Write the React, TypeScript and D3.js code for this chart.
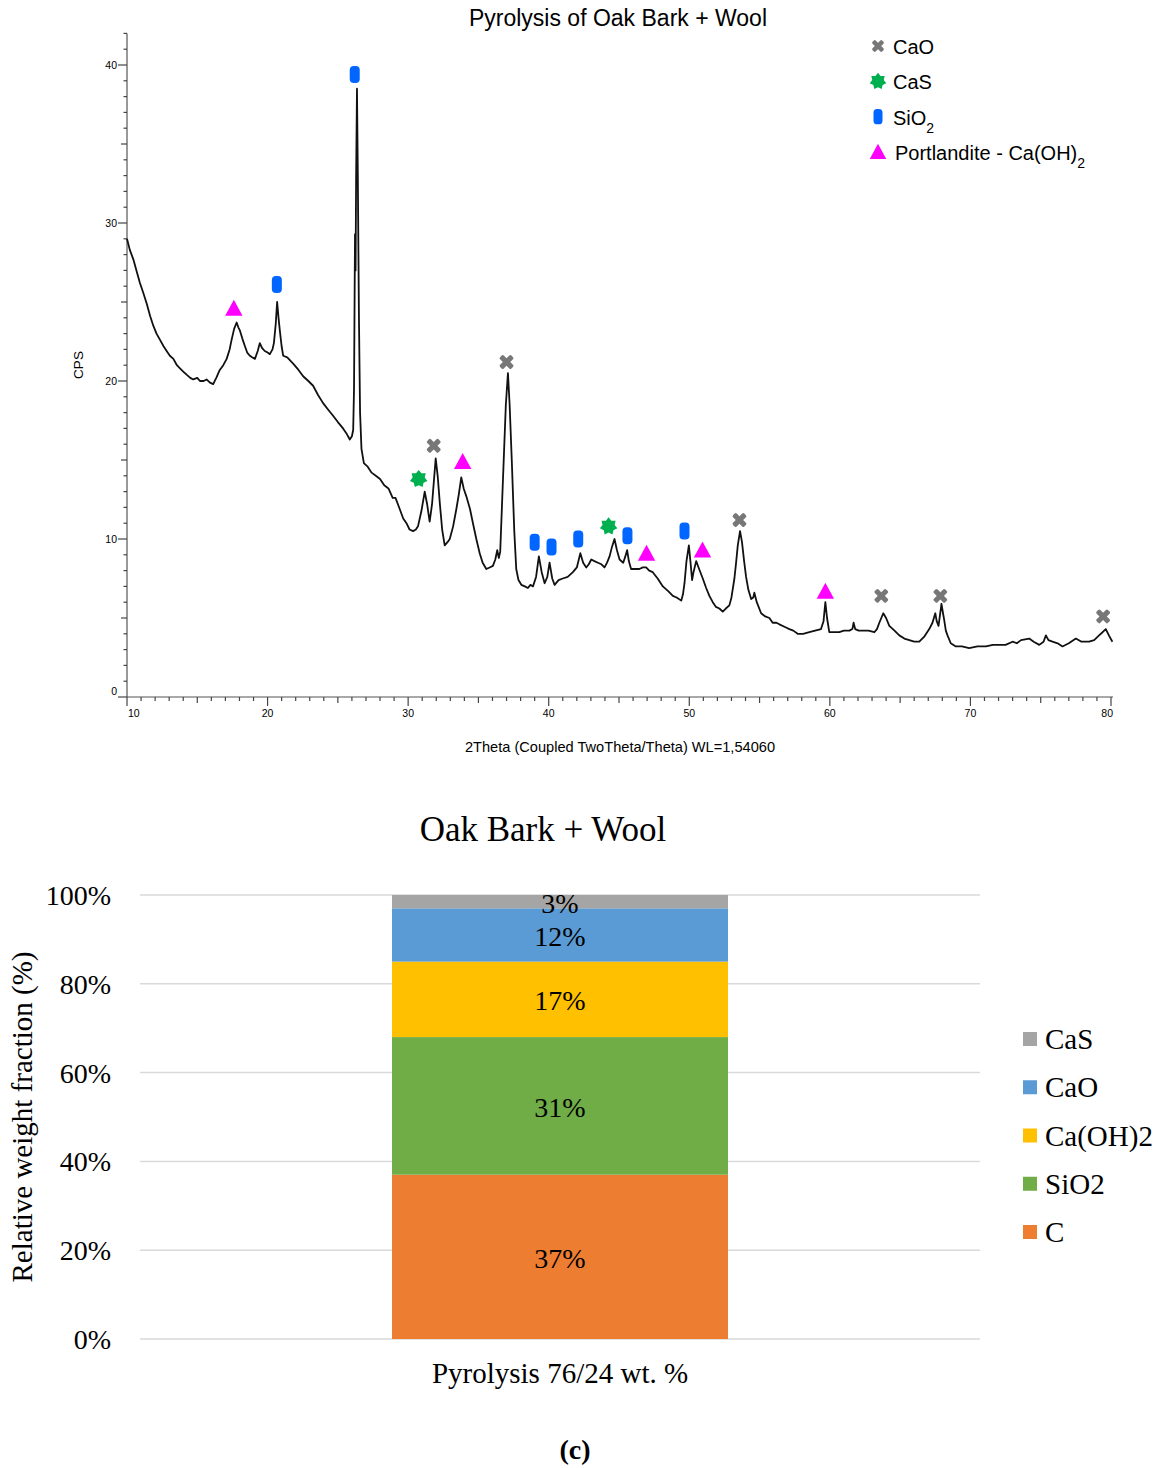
import React from "react";
import * as d3 from "d3";

// ---------- XRD pattern (2Theta, CPS) ----------
const xrdPoints: [number, number][] = [
  [10.0, 29.0], [10.2, 28.3], [10.45, 27.7], [10.7, 26.9], [10.92, 26.2], [11.15, 25.6], [11.4, 24.9],
  [11.65, 24.1], [11.87, 23.5], [12.1, 23.0], [12.35, 22.6], [12.6, 22.2], [12.82, 21.9], [13.05, 21.6],
  [13.3, 21.4], [13.55, 21.0], [13.77, 20.8], [14.0, 20.6], [14.24, 20.4], [14.5, 20.2], [14.71, 20.1],
  [15.0, 20.2], [15.19, 20.0], [15.45, 20.0], [15.66, 20.1], [15.9, 19.9], [16.13, 19.8], [16.35, 20.2],
  [16.6, 20.7], [16.85, 21.0], [17.09, 21.4], [17.3, 22.0], [17.44, 22.6], [17.62, 23.3], [17.8, 23.7],
  [17.92, 23.4], [18.03, 23.2], [18.2, 22.7], [18.39, 22.2], [18.55, 21.8], [18.74, 21.6], [18.9, 21.5],
  [19.1, 21.4], [19.3, 21.9], [19.45, 22.4], [19.6, 22.1], [19.8, 21.9], [20.0, 21.8], [20.16, 21.7],
  [20.35, 22.0], [20.45, 22.4], [20.58, 23.6], [20.68, 25.0], [20.78, 24.0], [20.87, 23.2], [21.0, 22.2],
  [21.11, 21.6], [21.4, 21.5], [21.82, 21.1], [22.2, 20.7], [22.53, 20.3], [22.9, 20.0], [23.24, 19.7],
  [23.6, 19.1], [23.95, 18.6], [24.3, 18.2], [24.66, 17.8], [25.0, 17.4], [25.37, 17.0], [25.6, 16.7],
  [25.85, 16.3], [26.0, 16.5], [26.09, 16.9], [26.15, 19.5], [26.22, 29.3], [26.26, 27.0], [26.3, 33.0],
  [26.36, 38.5], [26.42, 33.0], [26.5, 24.0], [26.58, 18.0], [26.68, 15.7], [26.85, 14.8], [27.1, 14.6],
  [27.4, 14.2], [27.7, 14.0], [28.0, 13.8], [28.3, 13.4], [28.6, 13.2], [28.9, 12.6], [29.1, 12.6],
  [29.4, 11.9], [29.65, 11.3], [29.88, 11.0], [30.1, 10.6], [30.35, 10.5], [30.55, 10.6], [30.7, 10.8],
  [30.95, 11.8], [31.18, 13.0], [31.35, 12.2], [31.53, 11.1], [31.7, 12.2], [31.96, 15.1], [32.1, 14.0],
  [32.25, 12.3], [32.42, 10.6], [32.6, 9.6], [32.8, 9.8], [32.96, 10.0], [33.2, 10.8], [33.43, 11.9],
  [33.6, 12.8], [33.78, 13.9], [33.95, 13.2], [34.14, 12.7], [34.4, 11.9], [34.61, 11.0], [34.85, 10.0],
  [35.09, 9.1], [35.3, 8.5], [35.56, 8.1], [35.8, 8.2], [36.03, 8.3], [36.2, 8.7], [36.34, 9.3],
  [36.45, 8.8], [36.55, 9.2], [36.79, 14.8], [36.95, 18.5], [37.1, 20.5], [37.22, 18.5], [37.38, 14.8],
  [37.55, 10.5], [37.69, 8.1], [37.85, 7.4], [38.05, 7.1], [38.3, 7.0], [38.52, 6.9], [38.7, 7.1],
  [38.88, 7.0], [39.1, 7.6], [39.3, 8.9], [39.5, 7.9], [39.71, 7.2], [39.9, 7.6], [40.06, 8.5],
  [40.25, 7.5], [40.42, 7.1], [40.7, 7.4], [41.0, 7.5], [41.35, 7.6], [41.72, 7.9], [42.0, 8.2],
  [42.25, 9.1], [42.45, 8.5], [42.67, 8.2], [42.85, 8.4], [43.03, 8.7], [43.25, 8.6], [43.5, 8.5],
  [43.75, 8.4], [43.97, 8.2], [44.15, 8.5], [44.33, 8.9], [44.5, 9.5], [44.68, 10.0], [44.85, 9.3],
  [45.04, 8.7], [45.3, 8.5], [45.45, 8.9], [45.58, 9.3], [45.7, 8.6], [45.86, 8.1], [46.15, 8.1],
  [46.45, 8.1], [46.7, 8.2], [46.93, 8.2], [47.15, 8.0], [47.4, 7.9], [47.75, 7.5], [48.12, 7.0],
  [48.5, 6.7], [48.83, 6.4], [49.1, 6.3], [49.43, 6.1], [49.55, 6.5], [49.66, 7.2], [49.8, 8.6],
  [49.97, 9.6], [50.1, 8.4], [50.2, 7.4], [50.3, 7.9], [50.49, 8.6], [50.7, 8.1], [50.96, 7.5],
  [51.2, 6.9], [51.43, 6.4], [51.67, 6.0], [51.9, 5.7], [52.14, 5.6], [52.38, 5.4], [52.6, 5.6],
  [52.85, 5.8], [53.0, 6.3], [53.21, 7.5], [53.33, 8.5], [53.45, 9.6], [53.61, 10.5], [53.75, 9.8],
  [53.9, 8.6], [54.04, 7.6], [54.2, 6.8], [54.4, 6.2], [54.55, 6.3], [54.63, 6.6], [54.8, 6.0],
  [55.11, 5.3], [55.4, 5.1], [55.7, 5.0], [55.93, 4.7], [56.2, 4.7], [56.41, 4.6], [56.88, 4.4],
  [57.12, 4.3], [57.4, 4.2], [57.71, 4.0], [58.1, 4.0], [58.54, 4.1], [58.95, 4.2], [59.37, 4.3],
  [59.55, 4.8], [59.68, 6.0], [59.8, 5.0], [59.96, 4.1], [60.3, 4.1], [60.67, 4.1], [61.0, 4.2],
  [61.39, 4.2], [61.6, 4.3], [61.69, 4.7], [61.8, 4.3], [62.05, 4.2], [62.33, 4.2], [62.75, 4.2],
  [63.16, 4.1], [63.35, 4.3], [63.52, 4.7], [63.8, 5.3], [64.0, 5.0], [64.23, 4.5], [64.6, 4.2],
  [64.94, 3.9], [65.3, 3.7], [65.65, 3.6], [66.0, 3.5], [66.36, 3.5], [66.7, 3.8], [67.07, 4.3],
  [67.3, 4.7], [67.5, 5.3], [67.6, 4.8], [67.73, 4.5], [67.85, 5.3], [67.94, 5.9], [68.05, 5.3],
  [68.13, 4.9], [68.25, 4.2], [68.37, 3.9], [68.6, 3.4], [68.96, 3.2], [69.4, 3.2], [69.91, 3.1],
  [70.5, 3.2], [71.1, 3.2], [71.6, 3.3], [72.05, 3.3], [72.5, 3.3], [73.0, 3.5], [73.3, 3.4],
  [73.6, 3.6], [74.18, 3.7], [74.5, 3.5], [74.9, 3.3], [75.2, 3.5], [75.37, 3.9], [75.55, 3.6],
  [75.84, 3.5], [76.2, 3.4], [76.55, 3.2], [77.0, 3.4], [77.5, 3.7], [77.9, 3.5], [78.44, 3.5],
  [78.8, 3.6], [79.15, 3.9], [79.4, 4.1], [79.63, 4.3], [79.85, 3.9], [80.1, 3.5],
];

// phase markers: [2Theta, CPS, phase]
const phaseMarkers: [number, number, string][] = [
  [17.6, 24.6, "Portlandite"], [20.66, 26.1, "SiO2"], [26.2, 39.4, "SiO2"], [30.75, 13.8, "CaS"],
  [31.82, 15.9, "CaO"], [33.88, 14.9, "Portlandite"], [37.0, 21.2, "CaO"], [39.0, 9.8, "SiO2"],
  [40.2, 9.5, "SiO2"], [42.1, 10.0, "SiO2"], [44.26, 10.8, "CaS"], [45.6, 10.2, "SiO2"],
  [46.96, 9.1, "Portlandite"], [49.66, 10.5, "SiO2"], [50.94, 9.3, "Portlandite"], [53.57, 11.2, "CaO"],
  [59.68, 6.7, "Portlandite"], [63.66, 6.4, "CaO"], [67.86, 6.4, "CaO"], [79.44, 5.1, "CaO"],
];

const xrdLegendPhases = ["CaO", "CaS", "SiO2", "Portlandite"];

const xTickValues = d3.range(10, 81, 1);
const yTickValues = d3.range(0, 43, 1);

// ---------- Composition bar ----------
const barCategory = ["Pyrolysis 76/24 wt. %"];
const phaseNames = ["C", "SiO2", "Ca(OH)2", "CaO", "CaS"];
const phaseFractions = [0.37, 0.31, 0.17, 0.12, 0.03];
const phaseColors = ["#ed7d31", "#70ad47", "#ffc000", "#5b9bd5", "#a5a5a5"];
const percentTicks = [0, 0.2, 0.4, 0.6, 0.8, 1.0];

const SANS = "'Liberation Sans', Arial, sans-serif";
const SERIF = "'Liberation Serif', 'Times New Roman', serif";

function starPath(outer: number, inner: number, n: number) {
  const pts: string[] = [];
  for (let i = 0; i < n * 2; i++) {
    const r = i % 2 === 0 ? outer : inner;
    const a = (Math.PI * i) / n - Math.PI / 2;
    pts.push(`${(r * Math.cos(a)).toFixed(2)},${(r * Math.sin(a)).toFixed(2)}`);
  }
  return "M" + pts.join("L") + "Z";
}

function Marker({ phase, x, y, s = 1 }: { phase: string; x: number; y: number; s?: number }) {
  if (phase === "CaO") {
    return (
      <g transform={`translate(${x},${y}) scale(${s})`} fill="#777">
        <rect x={-8} y={-2.6} width={16} height={5.2} rx={1.5} transform="rotate(45)" />
        <rect x={-8} y={-2.6} width={16} height={5.2} rx={1.5} transform="rotate(-45)" />
      </g>
    );
  }
  if (phase === "CaS") {
    return <path transform={`translate(${x},${y}) scale(${s})`} d={starPath(9, 6.2, 7)} fill="#00b050" />;
  }
  if (phase === "SiO2") {
    return (
      <rect transform={`translate(${x},${y}) scale(${s})`} x={-5} y={-8.5} width={10} height={17} rx={4} fill="#0066ff" />
    );
  }
  return <path transform={`translate(${x},${y}) scale(${s})`} d="M0,-8.5L8.7,7.5L-8.7,7.5Z" fill="#ff00ff" />;
}

export default function App() {
  const x = d3.scaleLinear().domain([10, 80]).range([127, 1111]);
  const y = d3.scaleLinear().domain([0, 40]).range([697, 65]);
  const line = d3
    .line<[number, number]>()
    .x((d) => x(d[0]))
    .y((d) => y(d[1]));

  // bottom chart scales
  const xb = d3.scaleBand().domain(barCategory).range([140, 980]).paddingInner(0.6).paddingOuter(0.3);
  const yb = d3.scaleLinear().domain([0, 1]).range([1339, 895]);
  const row: Record<string, number> = {};
  phaseNames.forEach((p, i) => (row[p] = phaseFractions[i]));
  const stacked = d3.stack<Record<string, number>>().keys(phaseNames)([row]);
  const bx = xb(barCategory[0]) as number;
  const bw = xb.bandwidth();

  const legendLabels: Record<string, React.ReactNode> = {
    CaO: "CaO",
    CaS: "CaS",
    SiO2: (
      <>
        SiO<tspan baselineShift="sub" fontSize={14}>2</tspan>
      </>
    ),
    Portlandite: (
      <>
        Portlandite - Ca(OH)<tspan baselineShift="sub" fontSize={14}>2</tspan>
      </>
    ),
  };

  return (
    <svg width={1162} height={1468} style={{ position: "absolute", left: 0, top: 0, background: "#fff" }}>
      {/* ===== XRD chart ===== */}
      <text x={618} y={26} textAnchor="middle" fontFamily={SANS} fontSize={23} fill="#000">
        Pyrolysis of Oak Bark + Wool
      </text>

      {/* axes */}
      <line x1={x(10)} x2={x(10)} y1={y(0)} y2={y(42)} stroke="#555" strokeWidth={1.2} />
      <line x1={x(10)} x2={x(80) + 2} y1={y(0)} y2={y(0)} stroke="#555" strokeWidth={1.2} />
      {yTickValues.map((v) => {
        const len = v % 10 === 0 ? 9 : v % 5 === 0 ? 6 : 3.5;
        return <line key={"yt" + v} x1={x(10) - len} x2={x(10)} y1={y(v)} y2={y(v)} stroke="#444" strokeWidth={1.2} />;
      })}
      {[0, 10, 20, 30, 40].map((v) => (
        <text
          key={"yl" + v}
          x={x(10) - 10}
          y={v === 0 ? y(v) - 2 : y(v) + 4}
          textAnchor="end"
          fontFamily={SANS}
          fontSize={10.5}
          fill="#000"
        >
          {v}
        </text>
      ))}
      {xTickValues.map((v) => {
        const len = v % 10 === 0 ? 9 : v % 5 === 0 ? 6 : 4;
        return <line key={"xt" + v} x1={x(v)} x2={x(v)} y1={y(0)} y2={y(0) + len} stroke="#444" strokeWidth={1.2} />;
      })}
      {[10, 20, 30, 40, 50, 60, 70, 80].map((v) => (
        <text
          key={"xl" + v}
          x={v === 10 ? x(v) + 1 : v === 80 ? x(v) + 2 : x(v)}
          y={y(0) + 20}
          textAnchor={v === 10 ? "start" : v === 80 ? "end" : "middle"}
          fontFamily={SANS}
          fontSize={10.5}
          fill="#000"
        >
          {v}
        </text>
      ))}
      <text x={620} y={752} textAnchor="middle" fontFamily={SANS} fontSize={14.6} fill="#000">
        2Theta (Coupled TwoTheta/Theta) WL=1,54060
      </text>
      <text
        transform={`translate(83,${365}) rotate(-90)`}
        textAnchor="middle"
        fontFamily={SANS}
        fontSize={13.5}
        fill="#000"
      >
        CPS
      </text>

      {/* pattern */}
      <path d={line(xrdPoints) || ""} fill="none" stroke="#111" strokeWidth={1.8} strokeLinejoin="round" />

      {/* phase markers */}
      {phaseMarkers.map((m, i) => (
        <Marker key={"pm" + i} phase={m[2]} x={x(m[0])} y={y(m[1])} />
      ))}

      {/* legend */}
      {xrdLegendPhases.map((p, i) => {
        const ly = 47 + i * 35.3;
        return (
          <g key={"lg" + p}>
            <Marker phase={p} x={878} y={ly - 1} s={p === "CaO" ? 0.85 : p === "SiO2" ? 0.9 : 0.95} />
            <text x={p === "Portlandite" ? 895 : 893} y={ly + 7} fontFamily={SANS} fontSize={20} fill="#000">
              {legendLabels[p]}
            </text>
          </g>
        );
      })}

      {/* ===== Composition chart ===== */}
      <text x={543} y={841} textAnchor="middle" fontFamily={SERIF} fontSize={35} fill="#000">
        Oak Bark + Wool
      </text>
      {percentTicks.map((t) => (
        <g key={"g" + t}>
          <line x1={140} x2={980} y1={yb(t)} y2={yb(t)} stroke="#d9d9d9" strokeWidth={1.5} />
          <text x={111} y={yb(t) + 10} textAnchor="end" fontFamily={SERIF} fontSize={28} fill="#000">
            {Math.round(t * 100) + "%"}
          </text>
        </g>
      ))}
      {stacked.map((s, i) => {
        const d = s[0];
        const top = yb(d[1]);
        const bot = yb(d[0]);
        const mid = (top + bot) / 2;
        return (
          <g key={"seg" + s.key}>
            <rect x={bx} y={top} width={bw} height={bot - top} fill={phaseColors[i]} />
            <text x={bx + bw / 2} y={mid + 11} textAnchor="middle" fontFamily={SERIF} fontSize={28} fill="#000">
              {Math.round(phaseFractions[i] * 100) + "%"}
            </text>
          </g>
        );
      })}
      <text x={bx + bw / 2} y={1383} textAnchor="middle" fontFamily={SERIF} fontSize={29} fill="#000">
        {barCategory[0]}
      </text>
      <text
        transform={`translate(32,1117) rotate(-90)`}
        textAnchor="middle"
        fontFamily={SERIF}
        fontSize={29}
        fill="#000"
      >
        Relative weight fraction (%)
      </text>
      {phaseNames
        .map((p, i) => ({ p, i }))
        .reverse()
        .map(({ p, i }, k) => {
          const ly = 1039 + k * 48.25;
          return (
            <g key={"bl" + p}>
              <rect x={1023} y={ly - 7} width={14} height={14} fill={phaseColors[i]} />
              <text x={1045} y={ly + 10} fontFamily={SERIF} fontSize={29} fill="#000">
                {p}
              </text>
            </g>
          );
        })}
      <text x={575} y={1459} textAnchor="middle" fontFamily={SERIF} fontSize={28} fontWeight="bold" fill="#000">
        (c)
      </text>
    </svg>
  );
}
